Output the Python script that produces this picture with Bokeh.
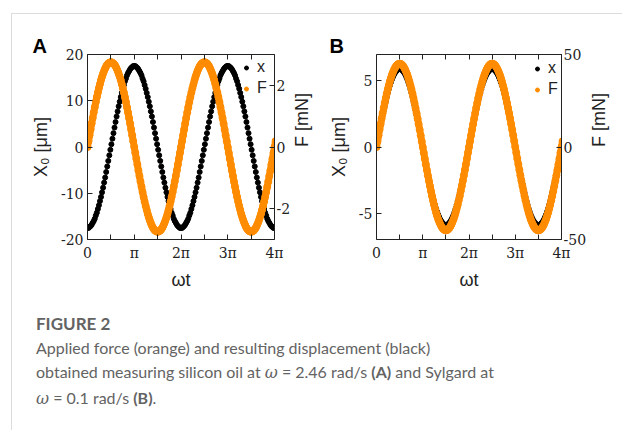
import math
from bokeh.plotting import figure
from bokeh.models import (Range1d, LinearAxis, FixedTicker, Legend,
                          LegendItem, Div, ColumnDataSource)
from bokeh.layouts import row, column
from bokeh.embed import file_html
from bokeh.resources import INLINE

# ---------------- data ----------------
# sample phase angles omega*t, in degrees
wt_deg = [0, 4, 8, 12, 16, 20, 24, 28, 32, 36, 40, 44, 48, 52, 56, 60, 64, 68,
          72, 76, 80, 84, 88, 92, 96, 100, 104, 108, 112, 116, 120, 124, 128,
          132, 136, 140, 144, 148, 152, 156, 160, 164, 168, 172, 176, 180, 184,
          188, 192, 196, 200, 204, 208, 212, 216, 220, 224, 228, 232, 236, 240,
          244, 248, 252, 256, 260, 264, 268, 272, 276, 280, 284, 288, 292, 296,
          300, 304, 308, 312, 316, 320, 324, 328, 332, 336, 340, 344, 348, 352,
          356, 360, 364, 368, 372, 376, 380, 384, 388, 392, 396, 400, 404, 408,
          412, 416, 420, 424, 428, 432, 436, 440, 444, 448, 452, 456, 460, 464,
          468, 472, 476, 480, 484, 488, 492, 496, 500, 504, 508, 512, 516, 520,
          524, 528, 532, 536, 540, 544, 548, 552, 556, 560, 564, 568, 572, 576,
          580, 584, 588, 592, 596, 600, 604, 608, 612, 616, 620, 624, 628, 632,
          636, 640, 644, 648, 652, 656, 660, 664, 668, 672, 676, 680, 684, 688,
          692, 696, 700, 704, 708, 712, 716, 720, 724]

# Panel A (silicon oil): displacement X0 [um]
xA_um = [-17.5, -17.5, -17.3, -17.1, -16.8, -16.4, -16.0, -15.5, -14.8, -14.2,
         -13.4, -12.6, -11.7, -10.8, -9.8, -8.8, -7.7, -6.6, -5.4, -4.2, -3.0,
         -1.8, -0.6, 0.6, 1.8, 3.0, 4.2, 5.4, 6.6, 7.7, 8.8, 9.8, 10.8, 11.7,
         12.6, 13.4, 14.2, 14.8, 15.5, 16.0, 16.4, 16.8, 17.1, 17.3, 17.5, 17.5,
         17.5, 17.3, 17.1, 16.8, 16.4, 16.0, 15.5, 14.8, 14.2, 13.4, 12.6, 11.7,
         10.8, 9.8, 8.8, 7.7, 6.6, 5.4, 4.2, 3.0, 1.8, 0.6, -0.6, -1.8, -3.0,
         -4.2, -5.4, -6.6, -7.7, -8.8, -9.8, -10.8, -11.7, -12.6, -13.4, -14.2,
         -14.8, -15.5, -16.0, -16.4, -16.8, -17.1, -17.3, -17.5,
         -17.5, -17.5, -17.3, -17.1, -16.8, -16.4, -16.0, -15.5, -14.8, -14.2,
         -13.4, -12.6, -11.7, -10.8, -9.8, -8.8, -7.7, -6.6, -5.4, -4.2, -3.0,
         -1.8, -0.6, 0.6, 1.8, 3.0, 4.2, 5.4, 6.6, 7.7, 8.8, 9.8, 10.8, 11.7,
         12.6, 13.4, 14.2, 14.8, 15.5, 16.0, 16.4, 16.8, 17.1, 17.3, 17.5, 17.5,
         17.5, 17.3, 17.1, 16.8, 16.4, 16.0, 15.5, 14.8, 14.2, 13.4, 12.6, 11.7,
         10.8, 9.8, 8.8, 7.7, 6.6, 5.4, 4.2, 3.0, 1.8, 0.6, -0.6, -1.8, -3.0,
         -4.2, -5.4, -6.6, -7.7, -8.8, -9.8, -10.8, -11.7, -12.6, -13.4, -14.2,
         -14.8, -15.5, -16.0, -16.4, -16.8, -17.1, -17.3, -17.5,
         -17.5, -17.5]

# Panel A (silicon oil): force F [mN]
FA_mN = [0.00, 0.19, 0.38, 0.57, 0.76, 0.94, 1.12, 1.29, 1.46, 1.62, 1.77, 1.91,
         2.04, 2.17, 2.28, 2.38, 2.47, 2.55, 2.62, 2.67, 2.71, 2.73, 2.75, 2.75,
         2.73, 2.71, 2.67, 2.62, 2.55, 2.47, 2.38, 2.28, 2.17, 2.04, 1.91, 1.77,
         1.62, 1.46, 1.29, 1.12, 0.94, 0.76, 0.57, 0.38, 0.19,
         0.00, -0.19, -0.38, -0.57, -0.76, -0.94, -1.12, -1.29, -1.46, -1.62,
         -1.77, -1.91, -2.04, -2.17, -2.28, -2.38, -2.47, -2.55, -2.62, -2.67,
         -2.71, -2.73, -2.75, -2.75, -2.73, -2.71, -2.67, -2.62, -2.55, -2.47,
         -2.38, -2.28, -2.17, -2.04, -1.91, -1.77, -1.62, -1.46, -1.29, -1.12,
         -0.94, -0.76, -0.57, -0.38, -0.19,
         0.00, 0.19, 0.38, 0.57, 0.76, 0.94, 1.12, 1.29, 1.46, 1.62, 1.77, 1.91,
         2.04, 2.17, 2.28, 2.38, 2.47, 2.55, 2.62, 2.67, 2.71, 2.73, 2.75, 2.75,
         2.73, 2.71, 2.67, 2.62, 2.55, 2.47, 2.38, 2.28, 2.17, 2.04, 1.91, 1.77,
         1.62, 1.46, 1.29, 1.12, 0.94, 0.76, 0.57, 0.38, 0.19,
         0.00, -0.19, -0.38, -0.57, -0.76, -0.94, -1.12, -1.29, -1.46, -1.62,
         -1.77, -1.91, -2.04, -2.17, -2.28, -2.38, -2.47, -2.55, -2.62, -2.67,
         -2.71, -2.73, -2.75, -2.75, -2.73, -2.71, -2.67, -2.62, -2.55, -2.47,
         -2.38, -2.28, -2.17, -2.04, -1.91, -1.77, -1.62, -1.46, -1.29, -1.12,
         -0.94, -0.76, -0.57, -0.38, -0.19,
         0.00, 0.19]

# Panel B (Sylgard): displacement X0 [um]
xB_um = [0.00, 0.41, 0.82, 1.23, 1.63, 2.02, 2.40, 2.77, 3.13, 3.47, 3.79, 4.10,
         4.38, 4.65, 4.89, 5.11, 5.30, 5.47, 5.61, 5.72, 5.81, 5.87, 5.90, 5.90,
         5.87, 5.81, 5.72, 5.61, 5.47, 5.30, 5.11, 4.89, 4.65, 4.38, 4.10, 3.79,
         3.47, 3.13, 2.77, 2.40, 2.02, 1.63, 1.23, 0.82, 0.41,
         0.00, -0.41, -0.82, -1.23, -1.63, -2.02, -2.40, -2.77, -3.13, -3.47,
         -3.79, -4.10, -4.38, -4.65, -4.89, -5.11, -5.30, -5.47, -5.61, -5.72,
         -5.81, -5.87, -5.90, -5.90, -5.87, -5.81, -5.72, -5.61, -5.47, -5.30,
         -5.11, -4.89, -4.65, -4.38, -4.10, -3.79, -3.47, -3.13, -2.77, -2.40,
         -2.02, -1.63, -1.23, -0.82, -0.41,
         0.00, 0.41, 0.82, 1.23, 1.63, 2.02, 2.40, 2.77, 3.13, 3.47, 3.79, 4.10,
         4.38, 4.65, 4.89, 5.11, 5.30, 5.47, 5.61, 5.72, 5.81, 5.87, 5.90, 5.90,
         5.87, 5.81, 5.72, 5.61, 5.47, 5.30, 5.11, 4.89, 4.65, 4.38, 4.10, 3.79,
         3.47, 3.13, 2.77, 2.40, 2.02, 1.63, 1.23, 0.82, 0.41,
         0.00, -0.41, -0.82, -1.23, -1.63, -2.02, -2.40, -2.77, -3.13, -3.47,
         -3.79, -4.10, -4.38, -4.65, -4.89, -5.11, -5.30, -5.47, -5.61, -5.72,
         -5.81, -5.87, -5.90, -5.90, -5.87, -5.81, -5.72, -5.61, -5.47, -5.30,
         -5.11, -4.89, -4.65, -4.38, -4.10, -3.79, -3.47, -3.13, -2.77, -2.40,
         -2.02, -1.63, -1.23, -0.82, -0.41,
         0.00, 0.41]

# Panel B (Sylgard): force F [mN]
FB_mN = [0.0, 3.1, 6.3, 9.4, 12.4, 15.4, 18.3, 21.1, 23.8, 26.5, 28.9, 31.3,
         33.4, 35.5, 37.3, 39.0, 40.4, 41.7, 42.8, 43.7, 44.3, 44.8, 45.0, 45.0,
         44.8, 44.3, 43.7, 42.8, 41.7, 40.4, 39.0, 37.3, 35.5, 33.4, 31.3, 28.9,
         26.5, 23.8, 21.1, 18.3, 15.4, 12.4, 9.4, 6.3, 3.1,
         0.0, -3.1, -6.3, -9.4, -12.4, -15.4, -18.3, -21.1, -23.8, -26.5, -28.9,
         -31.3, -33.4, -35.5, -37.3, -39.0, -40.4, -41.7, -42.8, -43.7, -44.3,
         -44.8, -45.0, -45.0, -44.8, -44.3, -43.7, -42.8, -41.7, -40.4, -39.0,
         -37.3, -35.5, -33.4, -31.3, -28.9, -26.5, -23.8, -21.1, -18.3, -15.4,
         -12.4, -9.4, -6.3, -3.1,
         0.0, 3.1, 6.3, 9.4, 12.4, 15.4, 18.3, 21.1, 23.8, 26.5, 28.9, 31.3,
         33.4, 35.5, 37.3, 39.0, 40.4, 41.7, 42.8, 43.7, 44.3, 44.8, 45.0, 45.0,
         44.8, 44.3, 43.7, 42.8, 41.7, 40.4, 39.0, 37.3, 35.5, 33.4, 31.3, 28.9,
         26.5, 23.8, 21.1, 18.3, 15.4, 12.4, 9.4, 6.3, 3.1,
         0.0, -3.1, -6.3, -9.4, -12.4, -15.4, -18.3, -21.1, -23.8, -26.5, -28.9,
         -31.3, -33.4, -35.5, -37.3, -39.0, -40.4, -41.7, -42.8, -43.7, -44.3,
         -44.8, -45.0, -45.0, -44.8, -44.3, -43.7, -42.8, -41.7, -40.4, -39.0,
         -37.3, -35.5, -33.4, -31.3, -28.9, -26.5, -23.8, -21.1, -18.3, -15.4,
         -12.4, -9.4, -6.3, -3.1,
         0.0, 3.1]

# x axis in units of pi
x_ticks = [0, 0.5, 1, 1.5, 2, 2.5, 3, 3.5, 4]
x_tick_labels = ["0", "", "π", "", "2π", "", "3π", "", "4π"]

A_left_ticks = [-20, -10, 0, 10, 20]
A_left_labels = ["-20", "-10", "0", "10", "20"]
A_right_ticks = [-2, 0, 2]
A_right_labels = ["-2", "0", "2"]
B_left_ticks = [-5, 0, 5]
B_left_labels = ["-5", "0", "5"]
B_right_ticks = [-50, 0, 50]
B_right_labels = ["-50", "0", "50"]

ORANGE = "#ff8c00"
TICK_FONT = "DejaVu Serif"
LABEL_FONT = "Liberation Sans"
INK = "#222222"


def style_axis(ax, ticks, labels=None, standoff=4):
    ax.ticker = FixedTicker(ticks=ticks)
    ax.major_tick_in = 5
    ax.major_tick_out = 0
    ax.minor_tick_in = 0
    ax.minor_tick_out = 0
    ax.axis_line_color = INK
    ax.major_tick_line_color = INK
    ax.major_label_text_font = TICK_FONT
    ax.major_label_text_font_size = "14px"
    ax.major_label_text_color = INK
    ax.major_label_standoff = standoff
    if labels is not None:
        ax.major_label_overrides = dict(zip(ticks, labels))


def style_label(ax, text, standoff):
    ax.axis_label = text
    ax.axis_label_text_font = LABEL_FONT
    ax.axis_label_text_font_size = "18px"
    ax.axis_label_text_font_style = "normal"
    ax.axis_label_text_color = INK
    ax.axis_label_standoff = standoff


def panel(letter, width, bl, br, yl, yr, lticks, llabels, rticks, rlabels,
          xs, Fs, leg_loc, letter_off, lstand, rstand, black_line):
    wt = [d / 180.0 for d in wt_deg]
    src = ColumnDataSource(dict(wt=wt, x=xs, F=Fs))
    p = figure(width=width, height=280, x_range=Range1d(0, 4),
               y_range=Range1d(*yl), output_backend="svg",
               toolbar_location=None, min_border_left=bl,
               min_border_right=br, min_border_top=40, min_border_bottom=55,
               outline_line_color=None, background_fill_color="white",
               border_fill_color="white", title=letter)
    p.grid.visible = False
    p.extra_y_ranges = {"F": Range1d(*yr)}

    p.title.align = "left"
    p.title.offset = letter_off
    p.title.standoff = -5
    p.title.text_font = LABEL_FONT
    p.title.text_font_size = "20px"
    p.title.text_font_style = "bold"
    p.title.text_color = "black"

    xb = p.below[0]
    ylft = p.left[0]
    style_axis(xb, x_ticks, x_tick_labels, 5)
    style_axis(ylft, lticks, llabels, 4)
    style_label(xb, "ωt", 6)
    style_label(ylft, "X₀ [μm]", lstand)

    top = LinearAxis()
    style_axis(top, x_ticks, standoff=0)
    top.major_label_text_font_size = "0px"
    top.major_label_text_color = None
    p.add_layout(top, "above")

    right = LinearAxis(y_range_name="F")
    style_axis(right, rticks, rlabels, 2)
    style_label(right, "F [mN]", rstand)
    try:
        right.axis_label_orientation = math.pi / 2
    except Exception:
        pass
    p.add_layout(right, "right")

    # data
    if black_line:
        p.line("wt", "x", source=src, line_color="black", line_width=4)
    rb = p.scatter("wt", "x", source=src, size=5, color="black")
    p.line("wt", "F", source=src, y_range_name="F", line_color=ORANGE,
           line_width=7, line_join="round", line_cap="round")
    ro = p.scatter("wt", "F", source=src, y_range_name="F", size=7,
                   color=ORANGE)

    leg = Legend(items=[LegendItem(label="x", renderers=[rb]),
                        LegendItem(label="F", renderers=[ro])],
                 location=leg_loc, padding=0, spacing=0, margin=0,
                 border_line_color=None, background_fill_alpha=0,
                 glyph_width=10, glyph_height=21, label_height=21,
                 label_standoff=6, label_text_font=LABEL_FONT,
                 label_text_font_size="16px", label_text_color=INK)
    p.add_layout(leg)
    return p


# panel A canvas: x 12..325, panel B canvas: x 325..622
pA = panel("A", 313, 75, 51, (-20, 20), (-3, 3), A_left_ticks, A_left_labels,
           A_right_ticks, A_right_labels, xA_um, FA_mN, (154, 140.5), -55,
           7, 9, False)
pB = panel("B", 297, 51, 61, (-7, 7), (-50, 50), B_left_ticks, B_left_labels,
           B_right_ticks, B_right_labels, xB_um, FB_mN, (156, 139.5), -47,
           7, 10, True)

caption_html = (
    '<div style="font-family:Lato, \'Open Sans\', sans-serif; color:#636363; '
    'padding:13px 0 0 19px; font-size:16px; line-height:24.5px;">'
    '<div style="font-size:17px; font-weight:700; line-height:23.5px;">FIGURE 2</div>'
    '<div>Applied force (orange) and resulting displacement (black)<br>'
    'obtained measuring silicon oil at <i style="font-family:\'DejaVu Serif\'">ω</i>'
    ' = 2.46 rad/s <b>(A)</b> and Sylgard at<br>'
    '<i style="font-family:\'DejaVu Serif\'">ω</i> = 0.1 rad/s <b>(B)</b>.</div></div>'
)
cap = Div(text=caption_html, width=610, height=136)

page = column(row(pA, pB), cap, margin=(13, 0, 0, 11),
              styles={"border-top": "1px solid #dcdcdc",
                      "border-left": "1px solid #dcdcdc"})

open("out.html", "w").write(file_html(page, INLINE))
